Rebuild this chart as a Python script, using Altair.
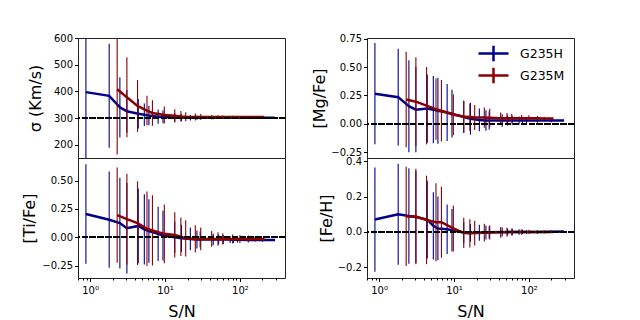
import altair as alt
import pandas as pd

# S/N values of the two gratings
SN_H = [0.88, 1.8, 2.5, 3.1, 4.4, 5.3, 6.1, 8.1, 9.4, 13.5, 16.6, 21.8, 26.7, 29.5, 44, 52, 60, 74, 82, 93, 130, 200, 290]
SN_M = [2.3, 3.1, 4.3, 5.75, 6.8, 9.8, 13.5, 16.3, 18.9, 25.4, 30, 42, 51, 59, 80, 100, 130, 160, 210]

# sigma (Km/s)
SIG_H = [397, 383, 340, 325, 316, 312, 309, 305, 304, 302, 301.5, 301, 301, 301, 300.5, 300.5, 300.5, 300.5, 300.5, 300.5, 300.5, 300.5, 300.5]
SIG_H_ERR = [320, 195, 113, 80, 55, 42, 36, 27, 24, 16, 13, 10, 8, 7, 5, 4.5, 4, 3, 3, 2.5, 2, 1.5, 1]
SIG_M = [408, 378, 345, 328, 319, 311, 308, 306, 305, 304, 304, 303.5, 303.5, 303.5, 303.5, 303.5, 303.5, 303.5, 303.5]
SIG_M_ERR = [245, 150, 97, 55, 48, 32, 25, 20, 17, 13, 11, 8, 7, 6, 5, 4, 3, 2.5, 2]

# [Mg/Fe]
MG_H = [0.265, 0.235, 0.155, 0.125, 0.135, 0.125, 0.115, 0.1, 0.09, 0.06, 0.045, 0.035, 0.03, 0.03, 0.03, 0.03, 0.03, 0.03, 0.03, 0.03, 0.03, 0.03, 0.03]
MG_H_ERR = [0.445, 0.425, 0.405, 0.375, 0.3, 0.295, 0.29, 0.25, 0.21, 0.14, 0.14, 0.1, 0.09, 0.08, 0.055, 0.045, 0.04, 0.035, 0.03, 0.025, 0.02, 0.015, 0.01]
MG_M = [0.215, 0.195, 0.16, 0.13, 0.115, 0.08, 0.065, 0.06, 0.057, 0.055, 0.053, 0.05, 0.05, 0.05, 0.05, 0.05, 0.05, 0.048, 0.047]
MG_M_ERR = [0.42, 0.39, 0.34, 0.27, 0.27, 0.18, 0.14, 0.12, 0.11, 0.09, 0.08, 0.05, 0.045, 0.04, 0.03, 0.025, 0.02, 0.015, 0.01]

# [Ti/Fe]
TI_H = [0.205, 0.155, 0.125, 0.08, 0.1, 0.07, 0.055, 0.03, 0.015, 0.0, -0.01, -0.015, -0.02, -0.02, -0.02, -0.02, -0.02, -0.02, -0.022, -0.022, -0.024, -0.025, -0.025]
TI_H_ERR = [0.44, 0.425, 0.40, 0.40, 0.33, 0.31, 0.28, 0.24, 0.22, 0.14, 0.12, 0.10, 0.08, 0.07, 0.05, 0.045, 0.04, 0.03, 0.028, 0.025, 0.02, 0.015, 0.01]
TI_M = [0.195, 0.16, 0.125, 0.075, 0.06, 0.03, 0.02, 0.005, -0.01, -0.015, -0.015, -0.015, -0.015, -0.015, -0.015, -0.015, -0.015, -0.015, -0.015]
TI_M_ERR = [0.42, 0.40, 0.37, 0.33, 0.31, 0.26, 0.2, 0.17, 0.16, 0.12, 0.1, 0.07, 0.06, 0.05, 0.04, 0.035, 0.03, 0.025, 0.02]

# [Fe/H]
FE_H = [0.07, 0.1, 0.09, 0.085, 0.07, 0.035, 0.02, 0.015, 0.01, -0.003, -0.005, -0.004, -0.003, -0.002, 0.0, 0.0, 0.0, 0.0, 0.0, 0.0, 0.0, 0.002, 0.003]
FE_H_ERR = [0.295, 0.285, 0.27, 0.26, 0.22, 0.19, 0.18, 0.14, 0.12, 0.06, 0.05, 0.045, 0.04, 0.035, 0.025, 0.02, 0.018, 0.015, 0.012, 0.01, 0.008, 0.006, 0.005]
FE_M = [0.088, 0.087, 0.068, 0.055, 0.055, 0.02, -0.005, -0.008, -0.006, -0.004, -0.003, -0.002, -0.001, 0.0, 0.0, 0.0, 0.0, 0.0, 0.0]
FE_M_ERR = [0.28, 0.27, 0.25, 0.22, 0.2, 0.13, 0.085, 0.08, 0.07, 0.05, 0.04, 0.03, 0.025, 0.02, 0.015, 0.012, 0.01, 0.008, 0.006]

GRATINGS = ["G235H", "G235M"]
COLORS = ["#00008b", "#8b0000"]
X_TICKS = [0.7, 0.8, 0.9, 1, 2, 3, 4, 5, 6, 7, 8, 9, 10, 20, 30, 40, 50, 60, 70, 80, 90, 100, 200, 300]

series = {
    "sig": (SIG_H, SIG_H_ERR, SIG_M, SIG_M_ERR),
    "mg": (MG_H, MG_H_ERR, MG_M, MG_M_ERR),
    "ti": (TI_H, TI_H_ERR, TI_M, TI_M_ERR),
    "fe": (FE_H, FE_H_ERR, FE_M, FE_M_ERR),
}

rows = []
for key, (hv, he, mv, me) in series.items():
    for sn, v, e in zip(SN_H, hv, he):
        rows.append(dict(panel=key, grating="G235H", sn=sn, val=v, lo=v - e, hi=v + e))
    for sn, v, e in zip(SN_M, mv, me):
        rows.append(dict(panel=key, grating="G235M", sn=sn, val=v, lo=v - e, hi=v + e))
df = pd.DataFrame(rows)

cscale = alt.Scale(domain=GRATINGS, range=COLORS)
xscale = alt.Scale(type="log", domain=[0.69, 400], nice=False)

LEGEND_PATH = "M-2.5,0L2.5,0M0,-1.3L0,1.3"


def panel(key, title, ydom, yticks, yfmt, ref, bottom, legend, tpad):
    base = alt.Chart(df).transform_filter(alt.datum.panel == key)
    if bottom:
        xaxis = alt.Axis(
            values=X_TICKS,
            labelExpr="datum.value == 1 ? '10⁰' : datum.value == 10 ? '10¹' : datum.value == 100 ? '10²' : ''",
            tickSize={"condition": {"test": "datum.value == 1 || datum.value == 10 || datum.value == 100", "value": 3.5}, "value": 2},
            title="S/N", labelPadding=4, titlePadding=8, labelFlush=False, labelOverlap=False,
        )
    else:
        xaxis = None
    x = alt.X("sn:Q", scale=xscale, axis=xaxis)
    yscale = alt.Scale(domain=ydom, nice=False, zero=False)
    yaxis = alt.Axis(values=yticks, format=yfmt, title=title, titlePadding=tpad, labelPadding=2,
                     tickSize=3.5, labelOverlap=False, labelFlush=False)
    if legend:
        leg = alt.Legend(
            title=None, orient="none", legendX=119, legendY=8,
            symbolType=LEGEND_PATH, symbolSize=144, symbolStrokeWidth=2.5,
            labelFontSize=12.5, labelOffset=19, rowPadding=-5, padding=0,
        )
    else:
        leg = None
    layers = []
    for g in GRATINGS:
        sub = base.transform_filter(alt.datum.grating == g)
        bars = sub.mark_rule(strokeWidth=1.1, clip=True).encode(
            x=x,
            y=alt.Y("lo:Q", scale=yscale, axis=yaxis),
            y2="hi:Q",
            color=alt.Color("grating:N", scale=cscale, legend=leg),
        )
        line = sub.mark_line(strokeWidth=2.5, clip=True).encode(
            x=x,
            y=alt.Y("val:Q", scale=yscale, axis=yaxis),
            color=alt.Color("grating:N", scale=cscale, legend=leg),
        )
        layers += [bars, line]
    rule = base.mark_rule(color="black", strokeWidth=1.5, strokeDash=[5.5, 2.4]).encode(
        y=alt.YDatum(ref, scale=yscale, axis=yaxis)
    )
    return alt.layer(*layers, rule).properties(width=207, height=120)


p_sig = panel("sig", "σ (Km/s)", [150, 600], [200, 300, 400, 500, 600], "d", 300, False, False, 10)
p_ti = panel("ti", "[Ti/Fe]", [-0.36, 0.70], [-0.25, 0, 0.25, 0.5], ".2f", 0, True, False, 4)
p_mg = panel("mg", "[Mg/Fe]", [-0.30, 0.755], [-0.25, 0, 0.25, 0.5, 0.75], ".2f", 0, False, True, 3)
p_fe = panel("fe", "[Fe/H]", [-0.26, 0.418], [-0.2, 0, 0.2, 0.4], ".1f", 0, True, False, 3)

chart = (
    alt.concat(p_sig, p_mg, p_ti, p_fe, columns=2, spacing={"row": 0, "column": 82}, bounds="flush")
    .resolve_scale(color="independent")
    .resolve_legend(color="independent")
    .properties(padding={"left": 13, "top": 24, "right": 0, "bottom": 0})
    .configure(font="DejaVu Sans")
    .configure_view(stroke="#222", strokeWidth=1)
    .configure_axis(
        domain=False, grid=False, labelFontSize=10, titleFontSize=16, titleFontWeight="normal",
        labelColor="black", titleColor="black", tickColor="black", tickWidth=1,
        labelFont="DejaVu Sans", titleFont="DejaVu Sans", labelOverlap=False,
    )
    .configure_legend(labelFont="DejaVu Sans", labelColor="black")
)

chart.save("out.html", embed_options={"renderer": "svg", "actions": False})
